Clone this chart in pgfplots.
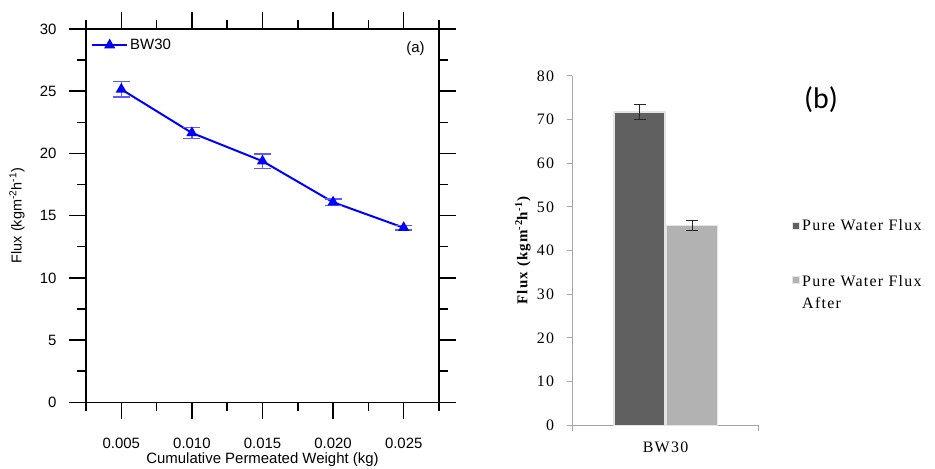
\documentclass[border=0pt]{standalone}
\usepackage{pgfplots}
\pgfplotsset{compat=1.18}
\usepackage{fontspec}
\setmainfont{Liberation Sans}
\newfontfamily\serifw[LetterSpace=8]{Liberation Serif}
\newfontfamily\carlito{Carlito}
\definecolor{errblue}{RGB}{90,90,255}
\definecolor{darkbar}{RGB}{96,96,96}
\definecolor{lightbar}{RGB}{178,178,178}
\definecolor{axgray}{RGB}{165,165,165}
\definecolor{shadow}{RGB}{228,228,228}
\begin{document}
\begin{tikzpicture}[x=1bp,y=1bp]
\path[use as bounding box] (0,0) rectangle (935,469);
% ---------------- panel (a)
\begin{axis}[
  at={(86bp,66.7bp)}, anchor=south west, scale only axis,
  width=353bp, height=373.3bp,
  xmin=0.0025, xmax=0.0275, ymin=0, ymax=30,
  xtick={0.005,0.010,0.015,0.020,0.025},
  xticklabels={0.005,0.010,0.015,0.020,0.025},
  minor xtick={0.0025,0.0075,0.0125,0.0175,0.0225,0.0275},
  ytick={0,5,10,15,20,25,30},
  minor ytick={2.5,7.5,12.5,17.5,22.5,27.5},
  tick align=outside,
  major tick length=17bp, minor tick length=9bp,
  every tick/.style={black, line width=1.5bp},
  axis line style={line width=1.5bp},
  /pgf/number format/assume math mode=true,
  scaled x ticks=false,
  tick label style={font=\fontsize{15}{18}\selectfont},
  xticklabel style={yshift=-15bp},
  yticklabel style={xshift=-9bp},
  xlabel={Cumulative Permeated Weight (kg)},
  ylabel={Flux (kgm\textsuperscript{-2}h\textsuperscript{-1})},
  xlabel style={at={([yshift=-57.7bp]axis description cs:0.5,0)}, anchor=center, font=\fontsize{15}{18}\selectfont},
  ylabel style={at={([xshift=-69bp]axis description cs:0,0.5)}, anchor=center, font=\fontsize{14.5}{17}\selectfont},
  legend style={at={([xshift=2bp,yshift=-6bp]axis description cs:0,1)}, anchor=north west, draw=none, fill=none, font=\fontsize{15}{18}\selectfont},
  legend image code/.code={\draw[mark repeat=2,mark phase=2,#1] plot coordinates {(0bp,0bp) (17.5bp,0bp) (35bp,0bp)};},
]
\addplot[blue, line width=2bp, mark=triangle*, mark size=4.5bp, mark options={solid},
  error bars/.cd, y dir=both, y explicit,
  error bar style={errblue, line width=1.5bp},
  error mark options={rotate=90, mark size=8.5bp, line width=1.5bp, errblue}]
  coordinates {
  (0.005,25.15) +- (0,0.62)
  (0.010,21.65) +- (0,0.45)
  (0.015,19.38) +- (0,0.58)
  (0.020,16.08) +- (0,0.25)
  (0.025,14.03) +- (0,0.17)
  };
\addlegendentry{BW30}
\end{axis}
\node[font=\fontsize{15}{18}\selectfont] at (415.5,420) {(a)};
% ---------------- panel (b)
\begin{axis}[
  at={(572.3bp,43.7bp)}, anchor=south west, scale only axis,
  width=186.4bp, height=349.3bp,
  xmin=-1, xmax=1, ymin=0, ymax=80,
  axis x line=bottom, axis y line=left,
  axis line style={axgray, line width=1bp, -},
  xtick={-1,1}, xticklabels={,},
  ytick={0,10,20,30,40,50,60,70,80},
  tick align=outside,
  major tick length=5.7bp,
  every tick/.style={axgray, line width=1bp},
  extra x ticks={0}, extra x tick labels={BW30},
  extra x tick style={major tick length=0pt, tick label style={yshift=-13bp}},
  /pgf/number format/assume math mode=true,
  tick label style={font=\serifw\fontsize{16}{19}\selectfont, black},
  yticklabel style={xshift=-9bp},
  ylabel={\bfseries Flux (kgm\textsuperscript{-2}h\textsuperscript{-1})},
  ylabel style={at={([xshift=-49.3bp]axis description cs:0,0.5)}, anchor=center, font=\serifw\fontsize{15}{18}\selectfont},
  legend style={at={(1.16,0.6)}, anchor=north west, draw=none, fill=none,
    font=\serifw\fontsize{16}{21.7}\selectfont, row sep=35bp},
  legend cell align=left,
  legend image code/.code={\fill[#1] (0bp,-3.5bp) rectangle (7bp,3.5bp);},
]
\addplot[ybar, bar width=51bp, bar shift=0pt, fill=darkbar, draw=shadow, line width=1.5bp,
  error bars/.cd, y dir=both, y explicit,
  error bar style={black!85, line width=1bp},
  error mark options={rotate=90, mark size=6bp, line width=1bp, black!85}]
  coordinates {(-0.279,71.7) +- (0,1.75)};
\addlegendentry{Pure Water Flux}
\addplot[ybar, bar width=51bp, bar shift=0pt, fill=lightbar, draw=shadow, line width=1.5bp,
  error bars/.cd, y dir=both, y explicit,
  error bar style={black!85, line width=1bp},
  error mark options={rotate=90, mark size=6bp, line width=1bp, black!85}]
  coordinates {(0.2865,45.8) +- (0,1.15)};
\addlegendentry{\begin{tabular}[t]{@{}l@{}}Pure Water Flux\\After\end{tabular}}
\end{axis}
\node[font=\carlito\fontsize{30}{34}\selectfont] at (821,369) {(b)};
\end{tikzpicture}
\end{document}
